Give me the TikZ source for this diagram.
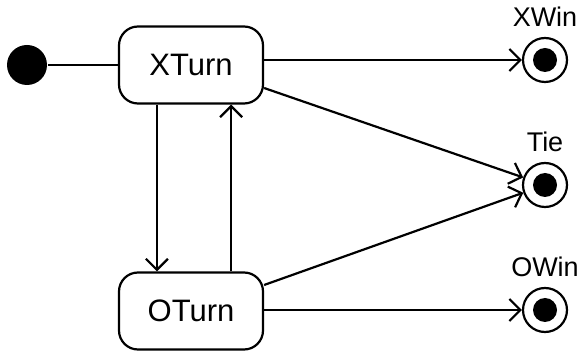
\documentclass[tikz,border=0pt]{standalone}
\usepackage{fontspec}
\setmainfont{Liberation Sans}
\usetikzlibrary{arrows.meta}
\begin{document}
\begin{tikzpicture}[x=1pt,y=-1pt, line width=2.2pt,
 state/.style={draw, rounded corners=19pt, minimum width=144pt, minimum height=77pt, inner sep=0pt, font=\fontsize{31}{36}\selectfont},
 initstate/.style={circle, fill, minimum size=40pt, inner sep=0pt},
 finalstate/.style={circle, draw, minimum size=44pt, inner sep=0pt,
   path picture={\fill (path picture bounding box.center) circle (12pt);},
   label={[font=\fontsize{27}{32}\selectfont, inner sep=0pt, label distance=9pt]above:#1}},
 trans/.style={-{Straight Barb[length=11pt,width=22pt]}},
]
\useasboundingbox (0,0) rectangle (584,352);
\node[initstate] (init) at (27,65) {};
\node[state] (X) at (191,65) {XTurn};
\node[state] (O) at (191,311) {OTurn};
\node[finalstate=XWin] (XW) at (545,60) {};
\node[finalstate=Tie] (T) at (545,185) {};
\node[finalstate=OWin] (OW) at (545,310) {};
\draw (init) -- (X);
\draw[trans] (X.east |- XW) -- (XW);
\draw[trans] ([yshift=-23pt]X.east) -- (T);
\draw[trans] ([yshift=26pt]O.east) -- (T);
\draw[trans] (O.east |- OW) -- (OW);
\draw[trans] ([xshift=39pt]X.south west) -- ([xshift=39pt]O.north west);
\draw[trans] ([xshift=-33pt]O.north east) -- ([xshift=-33pt]X.south east);
\end{tikzpicture}
\end{document}
